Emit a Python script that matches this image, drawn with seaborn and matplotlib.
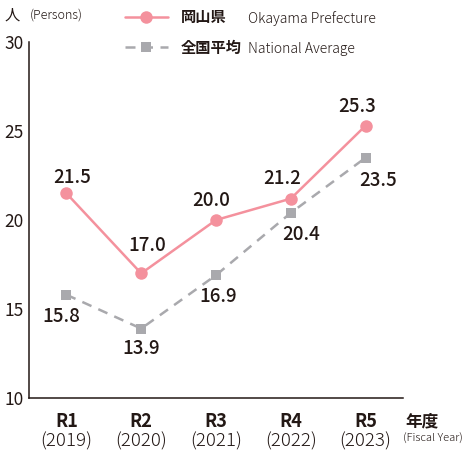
import numpy as np
import pandas as pd
import matplotlib.pyplot as plt
import seaborn as sns
from matplotlib.lines import Line2D

sns.set_style("white")
plt.rcParams['font.family'] = ['Noto Sans CJK JP', 'DejaVu Sans']

# data
reiwa = ['R1', 'R2', 'R3', 'R4', 'R5']
years = ['(2019)', '(2020)', '(2021)', '(2022)', '(2023)']
okayama = [21.5, 17.0, 20.0, 21.2, 25.3]
national = [15.8, 13.9, 16.9, 20.4, 23.5]

pink = '#f4919d'
gray = '#a9a9ad'
ink = '#231815'

df = pd.DataFrame({'x': np.arange(len(reiwa)), 'okayama': okayama, 'national': national})

fig = plt.figure(figsize=(4.64, 4.55), dpi=100)
ax = fig.add_axes([29 / 464, 57 / 455, 374 / 464, 356 / 455])

sns.lineplot(data=df, x='x', y='national', ax=ax, color=gray, lw=1.8,
             linestyle=(0, (4, 3)), marker='s', markersize=7.5, markeredgewidth=0,
             markerfacecolor=gray)
sns.lineplot(data=df, x='x', y='okayama', ax=ax, color=pink, lw=1.8,
             marker='o', markersize=9, markeredgewidth=0, markerfacecolor=pink)

ax.set_xlim(-0.5, 4.5)
ax.set_ylim(10, 30)
ax.set_xlabel('')
ax.set_ylabel('')

# value labels (offsets in pixels, y down)
pink_off = [(6, -16), (6, -28), (-5, -19), (-9, -20), (-8, -19)]
gray_off = [(-5, 22), (0, 20), (2, 21), (10, 22), (13, 23)]
for vals, offs in [(okayama, pink_off), (national, gray_off)]:
    for i, v in enumerate(vals):
        dx, dy = offs[i]
        ax.annotate(f'{v:.1f}', (i, v), xytext=(dx * 0.72, -dy * 0.72),
                    textcoords='offset points', ha='center', va='center',
                    fontsize=13.5, fontweight='medium', color=ink)

# axes style
for s in ['top', 'right']:
    ax.spines[s].set_visible(False)
for s in ['left', 'bottom']:
    ax.spines[s].set_linewidth(1.1)
    ax.spines[s].set_color(ink)

ax.set_yticks([10, 15, 20, 25, 30])
ax.set_yticklabels(['10', '15', '20', '25', '30'], fontsize=12.5, color=ink)
ax.tick_params(axis='y', length=0, pad=4)

ax.set_xticks(np.arange(-0.5, 5, 1))
ax.set_xticklabels([])
ax.tick_params(axis='x', direction='in', length=6, width=1, color=ink)

tr = ax.get_xaxis_transform()
for i in range(len(reiwa)):
    ax.text(i, -0.04, reiwa[i], transform=tr, ha='center', va='top',
            fontsize=13, fontweight='bold', color=ink)
    ax.text(i, -0.095, years[i], transform=tr, ha='center', va='top',
            fontsize=13.5, fontweight='light', color=ink)
ax.text(4.53, -0.04, '年度', transform=tr, ha='left', va='top',
        fontsize=12, fontweight='bold', color=ink)
ax.text(4.5, -0.1, '(Fiscal Year)', transform=tr, ha='left', va='top',
        fontsize=8, fontweight='light', color=ink)

fig.text(5 / 464, 1 - 15 / 455, '人', fontsize=11, va='center', color=ink)
fig.text(30 / 464, 1 - 15 / 455, '(Persons)', fontsize=9, va='center',
         fontweight='light', color=ink)

# legend
handles = [
    Line2D([], [], color=pink, lw=1.8, marker='o', markersize=9, markeredgewidth=0),
    Line2D([], [], color=gray, lw=1.8, linestyle=(0, (4, 3)), marker='s',
           markersize=7.5, markeredgewidth=0),
]
leg = fig.legend(handles, ['岡山県', '全国平均'], loc='upper left',
                 bbox_to_anchor=(125 / 464, 1 - 9 / 455), frameon=False,
                 borderpad=0, borderaxespad=0,
                 handlelength=2.8, handletextpad=0.85, labelspacing=0.95,
                 prop={'weight': 'bold', 'size': 11})
for t in leg.get_texts():
    t.set_color(ink)
fig.text(248 / 464, 1 - 19 / 455, 'Okayama Prefecture', fontsize=10,
         va='center', fontweight='light', color=ink)
fig.text(248 / 464, 1 - 49 / 455, 'National Average', fontsize=10,
         va='center', fontweight='light', color=ink)

fig.savefig('out.png', dpi=100)
